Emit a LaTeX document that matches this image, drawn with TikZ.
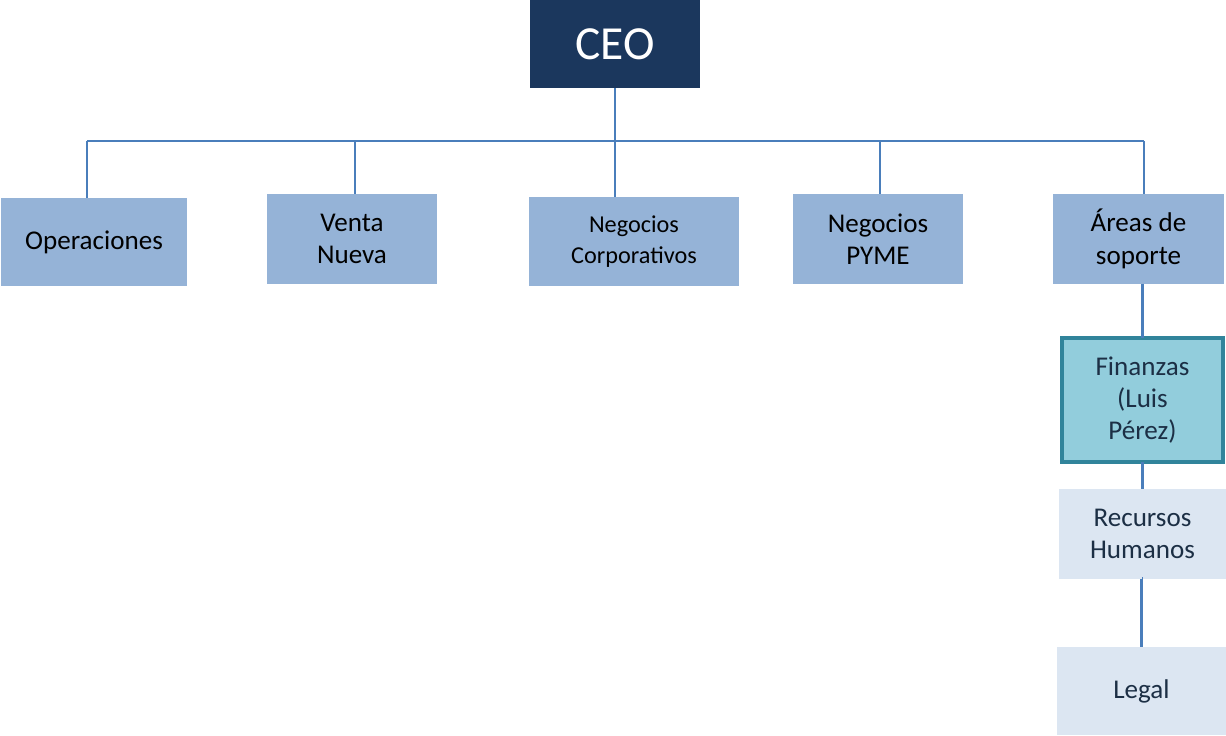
\documentclass[tikz,border=0pt]{standalone}
\usepackage{fontspec}
\setmainfont{Carlito}
\definecolor{ceoblue}{HTML}{1B375D}
\definecolor{areablue}{HTML}{95B3D7}
\definecolor{finfill}{HTML}{92CDDC}
\definecolor{finline}{HTML}{31849B}
\definecolor{paleblue}{HTML}{DCE6F2}
\definecolor{linkblue}{HTML}{4A7EBB}
\definecolor{darktext}{HTML}{1C2F45}

\begin{document}
\begin{tikzpicture}[x=0.01cm,y=-0.01cm,
  box/.style={inner sep=0pt,outer sep=0pt,align=center,font=\fontsize{7.7}{9.2}\selectfont},
  area/.style={box,fill=areablue,text=black},
  sub/.style={box,fill=paleblue,text=darktext},
  link/.style={draw=linkblue,line width=0.75pt}]
  \useasboundingbox (0,0) rectangle (1226,736);
  % CEO
  \node[box,fill=ceoblue,text=white,minimum width=1.7cm,minimum height=0.88cm,
    font=\fontsize{13.5}{15}\selectfont] (ceo) at (615,44) {CEO};
  % areas
  \node[area,minimum width=1.86cm,minimum height=0.88cm] (ops) at (94,242) {Operaciones};
  \node[area,minimum width=1.7cm,minimum height=0.89cm] (venta) at (352,239) {Venta\\Nueva};
  \node[area,minimum width=2.1cm,minimum height=0.89cm,
    font=\fontsize{6.9}{8.6}\selectfont] (corp) at (634,241.5) {Negocios\\Corporativos};
  \node[area,minimum width=1.7cm,minimum height=0.89cm] (pyme) at (878,239) {Negocios\\PYME};
  \node[area,minimum width=1.71cm,minimum height=0.89cm] (soporte) at (1138.5,239) {Áreas de\\soporte};
  % support areas
  \node[box,fill=finfill,draw=finline,line width=1.1pt,text=darktext,
    minimum width=1.61cm,minimum height=1.24cm] (fin) at (1142.5,400) {Finanzas\\(Luis\\Pérez)};
  \node[sub,minimum width=1.67cm,minimum height=0.89cm] (rrhh) at (1142.5,534) {Recursos\\Humanos};
  \node[sub,minimum width=1.69cm,minimum height=0.88cm] (legal) at (1141.5,691) {Legal};
  % bus
  \coordinate (b1) at (87,141);
  \coordinate (b2) at (355,141);
  \coordinate (b3) at (615,141);
  \coordinate (b4) at (880,141);
  \coordinate (b5) at (1144,141);
  \draw[link] (b1) -- (b5);
  \draw[link] (ceo.south) -- (ceo.south |- corp.north);
  \draw[link] (b1) -- (b1 |- ops.north);
  \draw[link] (b2) -- (b2 |- venta.north);
  \draw[link] (b4) -- (b4 |- pyme.north);
  \draw[link] (b5) -- (b5 |- soporte.north);
  \draw[link] (soporte.south -| fin.north) -- (fin.north);
  \draw[link] (fin.south) -- (rrhh.north);
  \draw[link] (rrhh.south) -- (rrhh.south -| legal.north);
  \draw[link] (rrhh.south -| legal.north) -- (legal.north);
\end{tikzpicture}
\end{document}
